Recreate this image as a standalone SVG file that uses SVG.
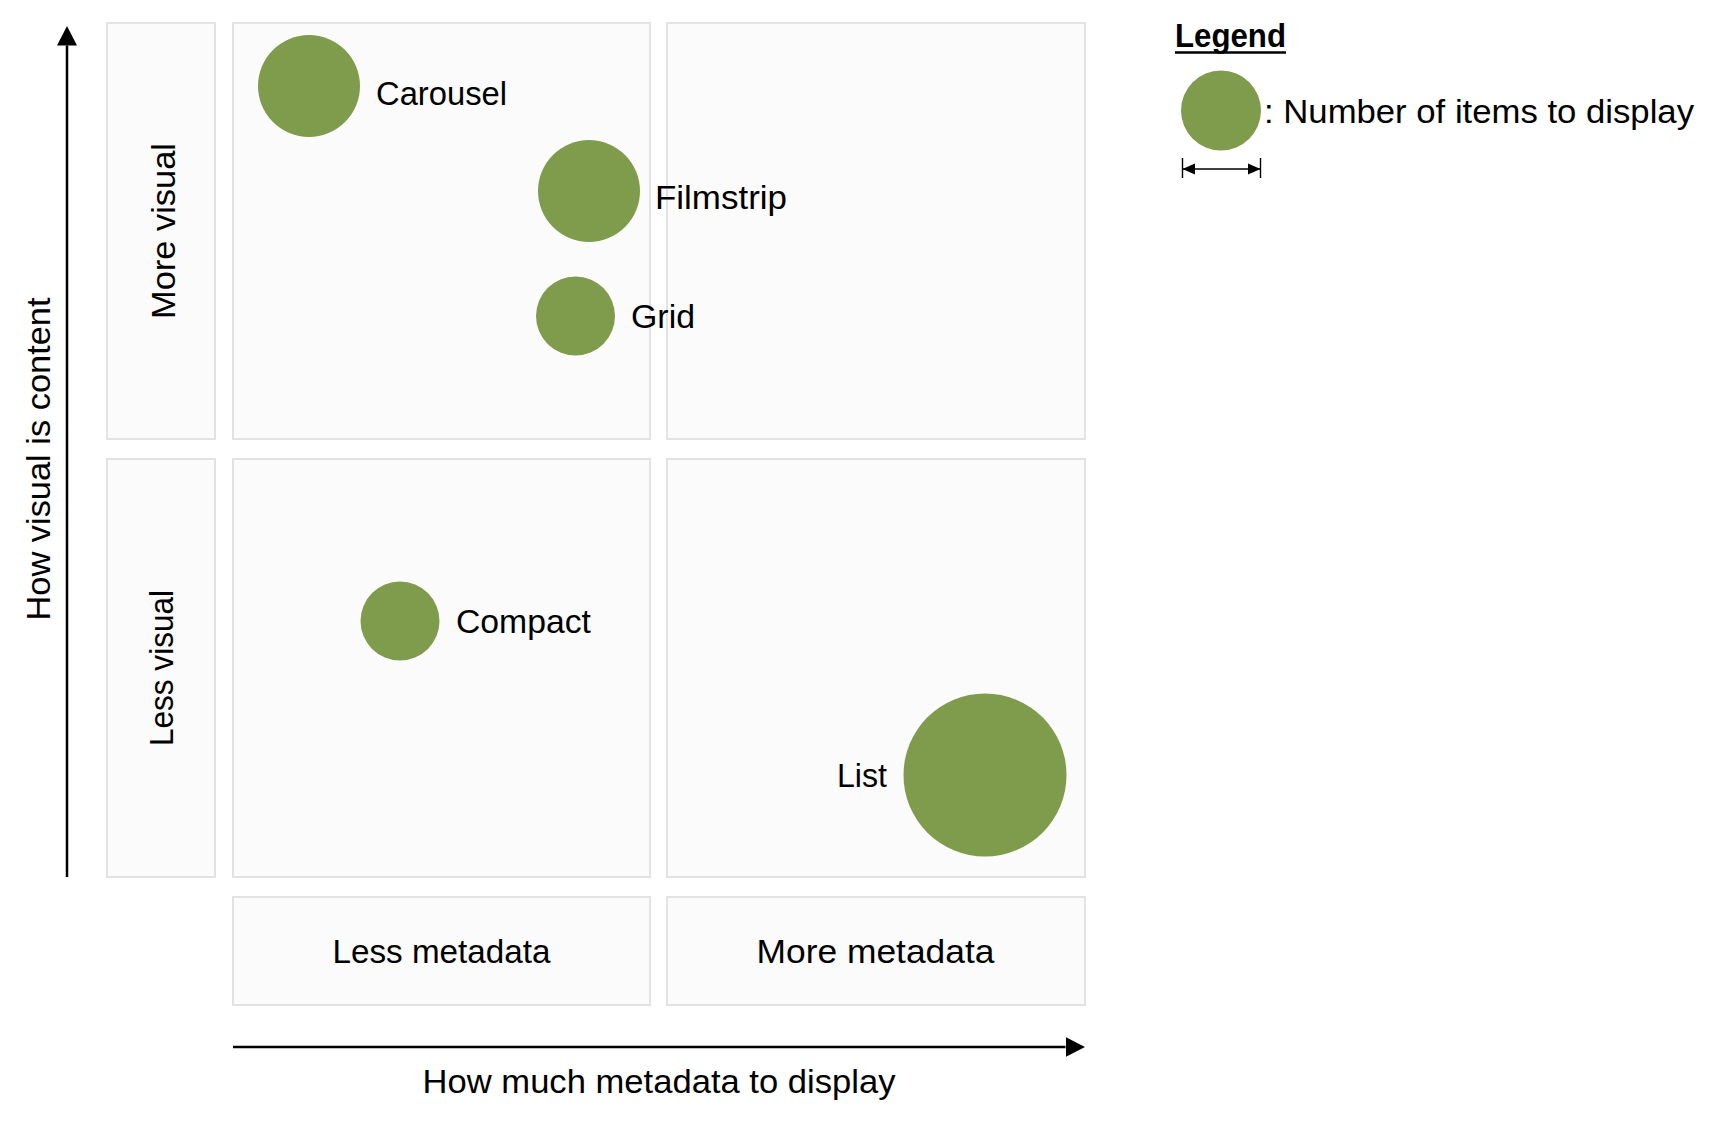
<svg xmlns="http://www.w3.org/2000/svg" width="1722" height="1125" viewBox="0 0 1722 1125">
  <style>
    .box { fill: #FBFBFB; stroke: #E3E3E3; stroke-width: 2; }
    .dot { fill: #7E9C4B; }
    .lbl { font-family: "Liberation Sans", Arial, sans-serif; font-size: 33px; fill: #000000; }
    .axis { stroke: #000000; stroke-width: 2.5; fill: none; }
    .dim { stroke: #000000; stroke-width: 1.4; fill: none; }
  </style>
  <defs>
    <marker id="ah" markerUnits="userSpaceOnUse" markerWidth="20" markerHeight="20" refX="0" refY="10" orient="auto">
      <path d="M0,0 L19.5,10 L0,20 Z" fill="#000000"/>
    </marker>
    <marker id="dh" markerUnits="userSpaceOnUse" markerWidth="13" markerHeight="12" refX="12.7" refY="5.6" orient="auto-start-reverse">
      <path d="M0,0 L12.7,5.6 L0,11.2 Z" fill="#000000"/>
    </marker>
  </defs>
  <rect width="1722" height="1125" fill="#FFFFFF"/>

  <g id="row-more-visual">
    <rect class="box" x="107" y="23" width="108" height="416"/>
    <text class="lbl" transform="translate(175,231) rotate(-90)" text-anchor="middle" textLength="176" lengthAdjust="spacingAndGlyphs">More visual</text>
  </g>
  <g id="row-less-visual">
    <rect class="box" x="107" y="459" width="108" height="418"/>
    <text class="lbl" transform="translate(173,668) rotate(-90)" text-anchor="middle" textLength="156" lengthAdjust="spacingAndGlyphs">Less visual</text>
  </g>
  <g id="cell-top-left">
    <rect class="box" x="233" y="23" width="417" height="416"/>
  </g>
  <g id="cell-top-right">
    <rect class="box" x="667" y="23" width="418" height="416"/>
  </g>
  <g id="cell-bottom-left">
    <rect class="box" x="233" y="459" width="417" height="418"/>
  </g>
  <g id="cell-bottom-right">
    <rect class="box" x="667" y="459" width="418" height="418"/>
  </g>
  <g id="col-less-metadata">
    <rect class="box" x="233" y="897" width="417" height="108"/>
    <text class="lbl" x="441.5" y="963" text-anchor="middle" textLength="218" lengthAdjust="spacingAndGlyphs">Less metadata</text>
  </g>
  <g id="col-more-metadata">
    <rect class="box" x="667" y="897" width="418" height="108"/>
    <text class="lbl" x="875.5" y="963" text-anchor="middle" textLength="238" lengthAdjust="spacingAndGlyphs">More metadata</text>
  </g>

  <g id="carousel">
    <circle class="dot" cx="309" cy="86" r="51"/>
    <text class="lbl" x="376" y="105" textLength="131" lengthAdjust="spacingAndGlyphs">Carousel</text>
  </g>
  <g id="filmstrip">
    <circle class="dot" cx="589" cy="191" r="51"/>
    <text class="lbl" x="655" y="209" textLength="132" lengthAdjust="spacingAndGlyphs">Filmstrip</text>
  </g>
  <g id="grid">
    <circle class="dot" cx="575.5" cy="316" r="39.5"/>
    <text class="lbl" x="631" y="328" textLength="64" lengthAdjust="spacingAndGlyphs">Grid</text>
  </g>
  <g id="compact">
    <circle class="dot" cx="400" cy="621" r="39.5"/>
    <text class="lbl" x="456" y="633" textLength="135" lengthAdjust="spacingAndGlyphs">Compact</text>
  </g>
  <g id="list">
    <circle class="dot" cx="985" cy="775" r="81.5"/>
    <text class="lbl" x="837" y="787" textLength="50" lengthAdjust="spacingAndGlyphs">List</text>
  </g>

  <g id="connectors">
    <line class="axis" x1="67" y1="877" x2="67" y2="45.5" marker-end="url(#ah)"/>
    <line class="axis" x1="233" y1="1047" x2="1065.5" y2="1047" marker-end="url(#ah)"/>
    <line class="dim" x1="1182.5" y1="169" x2="1260.5" y2="169" marker-start="url(#dh)" marker-end="url(#dh)"/>
    <line class="dim" x1="1182.5" y1="158" x2="1182.5" y2="178"/>
    <line class="dim" x1="1260.5" y1="158" x2="1260.5" y2="178"/>
  </g>

  <g id="axis-labels">
    <text class="lbl" transform="translate(49.5,459) rotate(-90)" text-anchor="middle" textLength="323" lengthAdjust="spacingAndGlyphs">How visual is content</text>
    <text class="lbl" x="659" y="1093" text-anchor="middle" textLength="473" lengthAdjust="spacingAndGlyphs">How much metadata to display</text>
  </g>

  <g id="legend">
    <text class="lbl" x="1175" y="47" font-weight="bold" textLength="111" lengthAdjust="spacingAndGlyphs">Legend</text>
    <line x1="1175" y1="52.5" x2="1286" y2="52.5" stroke="#000000" stroke-width="2.4"/>
    <circle class="dot" cx="1221" cy="110.5" r="40"/>
    <text class="lbl" x="1264" y="123" textLength="430" lengthAdjust="spacingAndGlyphs">: Number of items to display</text>
  </g>
</svg>
